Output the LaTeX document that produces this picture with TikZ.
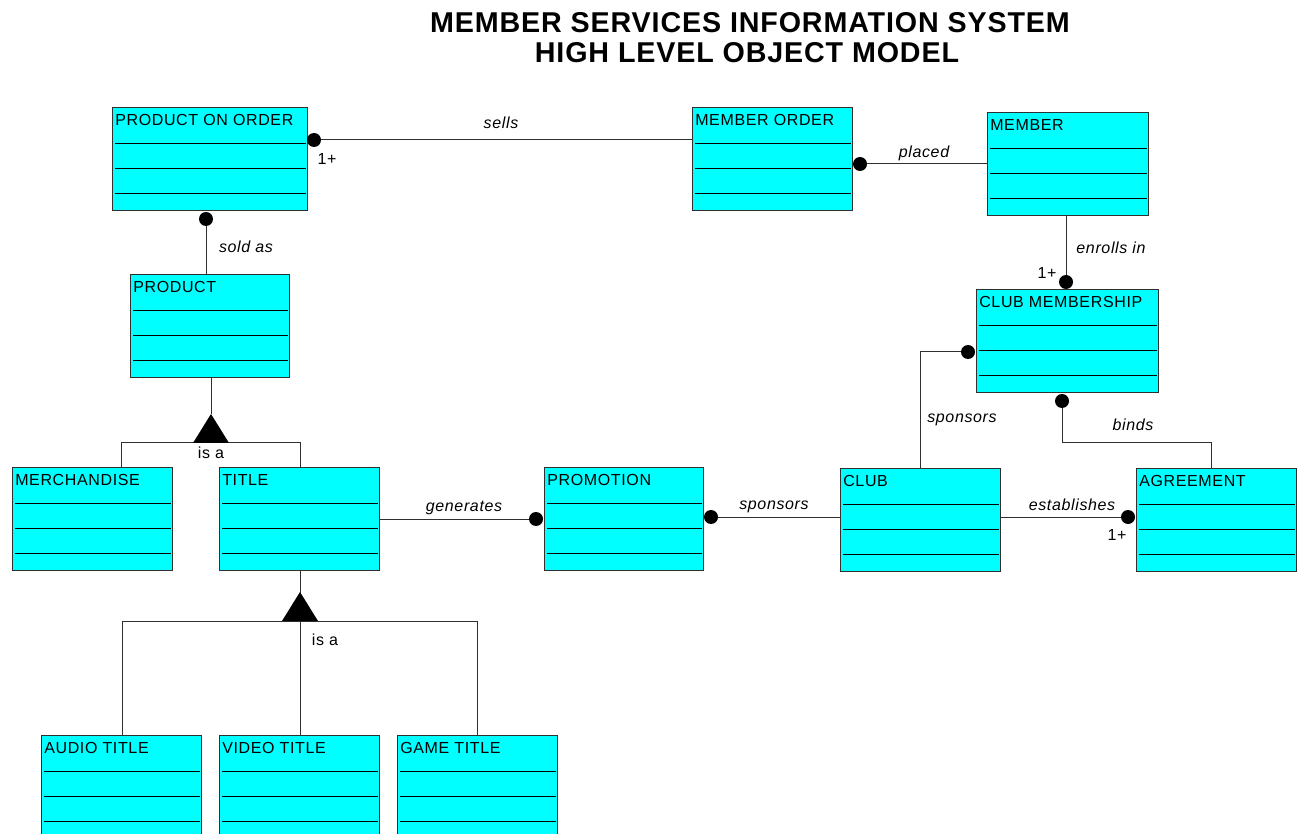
\documentclass[tikz,border=0pt]{standalone}
\usepackage{fontspec}
\setmainfont{Liberation Sans}
\newfontfamily\boxfont[LetterSpace=4]{Liberation Sans}
\newfontfamily\titlefont[LetterSpace=3]{Liberation Sans}
\usetikzlibrary{calc}
\definecolor{boxcyan}{RGB}{0,255,255}
\definecolor{edge}{RGB}{48,48,48}
\tikzset{
 cls/.style={rectangle, draw=edge, fill=boxcyan, line width=0.75pt, minimum height=103*0.75pt, inner sep=0pt, outer sep=0pt},
 lbl/.style={inner sep=0pt, font=\boxfont\fontsize{12}{14}\selectfont},
 rel/.style={inner sep=0pt, font=\boxfont\itshape\fontsize{12}{14}\selectfont},
 mult/.style={inner sep=0pt, font=\boxfont\fontsize{12}{14}\selectfont},
 divider/.style={draw=black, line width=0.75pt},
 conn/.style={draw=edge, line width=0.75pt},
 dot/.style={circle, fill=black, inner sep=0pt, outer sep=0pt, minimum size=14*0.75pt},
 isa/.style={fill=black},
 ttl/.style={inner sep=0pt, font=\titlefont\bfseries\fontsize{21.5}{24}\selectfont}
}
\newcommand\umlbox[5]{%
 \node[cls, minimum width=#4*0.75pt, anchor=north west] (#1) at (#2,#3) {};
 \node[lbl, anchor=base west] (#1-t) at ($(#1.north west)+(3,18)$) {#5};
 \foreach \d in {36,61,86}{\draw[divider] ($(#1.north west)+(3,\d)$) -- ($(#1.north east)+(-1,\d)$);}
}
\begin{document}
\begin{tikzpicture}[x=0.75pt,y=-0.75pt]
\fill[white] (0,0) rectangle (1304,834);
\clip (0,0) rectangle (1304,834);
% title
\node[ttl, anchor=base] (t1) at (750,33) {MEMBER SERVICES INFORMATION SYSTEM};
\node[ttl, anchor=base] (t2) at (747,63) {HIGH LEVEL OBJECT MODEL};
% classes
\umlbox{po}{112}{108}{195}{PRODUCT ON ORDER}
\umlbox{mo}{692}{108}{160}{MEMBER ORDER}
\umlbox{mem}{987}{113}{161}{MEMBER}
\umlbox{prod}{130}{275}{159}{PRODUCT}
\umlbox{cm}{976}{290}{182}{CLUB MEMBERSHIP}
\umlbox{merch}{12}{467}{160}{MERCHANDISE}
\umlbox{title}{219}{467}{160}{TITLE}
\umlbox{promo}{544}{467}{159}{PROMOTION}
\umlbox{club}{840}{468}{160}{CLUB}
\umlbox{agr}{1136}{468}{160}{AGREEMENT}
\umlbox{audio}{41}{735}{160}{AUDIO TITLE}
\umlbox{video}{219}{735}{160}{VIDEO TITLE}
\umlbox{game}{397}{735}{160}{GAME TITLE}
% sells
\node[dot] (d-sells) at ($(po.north east)+(7,32)$) {};
\draw[conn] (d-sells) -- (d-sells -| mo.west);
\node[rel] (l-sells) at (501,123) {sells};
\node[mult] (m-sells) at (327,159) {1+};
% sold as
\node[dot] (d-sold) at ($(po.south west)+(94,8)$) {};
\draw[conn] (d-sold) -- (d-sold |- prod.north);
\node[rel] (l-sold) at (246,247) {sold as};
% placed
\node[dot] (d-placed) at ($(mo.north east)+(8,56)$) {};
\draw[conn] (d-placed) -- (d-placed -| mem.west);
\node[rel] (l-placed) at (924,153) {placed};
% enrolls in
\node[dot] (d-enr) at ($(cm.north west)+(90,-8)$) {};
\draw[conn] (d-enr) -- (d-enr |- mem.south);
\node[rel] (l-enr) at (1111,248) {enrolls in};
\node[mult] (m-enr) at (1047,273) {1+};
% sponsors (club membership - club)
\node[dot] (d-spcm) at ($(cm.north west)+(-8,62)$) {};
\coordinate (c-sp) at (920,352);
\draw[conn] (d-spcm) -- (c-sp) -- (c-sp |- club.north);
\node[rel] (l-spcm) at (962,420) {sponsors};
% binds
\node[dot] (d-binds) at ($(cm.south west)+(86,8)$) {};
\coordinate (c-b) at (1211,443);
\draw[conn] (d-binds) -- (d-binds |- c-b) -- (c-b) -- (c-b |- agr.north);
\node[rel] (l-binds) at (1133,425) {binds};
% establishes
\node[dot] (d-est) at ($(agr.north west)+(-8,49)$) {};
\draw[conn] (d-est) -- (d-est -| club.east);
\node[rel] (l-est) at (1072,505) {establishes};
\node[mult] (m-est) at (1117,535) {1+};
% generates
\node[dot] (d-gen) at ($(promo.north west)+(-8,52)$) {};
\draw[conn] (d-gen) -- (d-gen -| title.east);
\node[rel] (l-gen) at (464,508) {generates};
% sponsors (promotion - club)
\node[dot] (d-sppr) at ($(promo.north east)+(8,50)$) {};
\draw[conn] (d-sppr) -- (d-sppr -| club.west);
\node[rel] (l-sppr) at (774,507) {sponsors};
% generalization 1
\coordinate (g1) at (211,414);
\coordinate (g1a) at (193,443);
\coordinate (g1b) at (229,443);
\coordinate (h1l) at (121,443);
\coordinate (h1r) at (300,443);
\draw[conn] (g1 |- prod.south) -- (g1);
\draw[conn] (h1l |- merch.north) -- (h1l) -- (h1r) -- (h1r |- title.north);
\fill[isa] (g1) -- (g1a) -- (g1b) -- cycle;
\node[mult] (isa1) at (211,453) {is a};
% generalization 2
\coordinate (g2) at (300,592);
\coordinate (g2a) at (282,621);
\coordinate (g2b) at (318,621);
\coordinate (h2l) at (122,621);
\coordinate (h2r) at (477,621);
\draw[conn] (g2 |- title.south) -- (g2);
\draw[conn] (h2l |- audio.north) -- (h2l) -- (h2r) -- (h2r |- game.north);
\draw[conn] (g2) -- (g2 |- video.north);
\fill[isa] (g2) -- (g2a) -- (g2b) -- cycle;
\node[mult] (isa2) at (325,640) {is a};
\end{tikzpicture}
\end{document}
